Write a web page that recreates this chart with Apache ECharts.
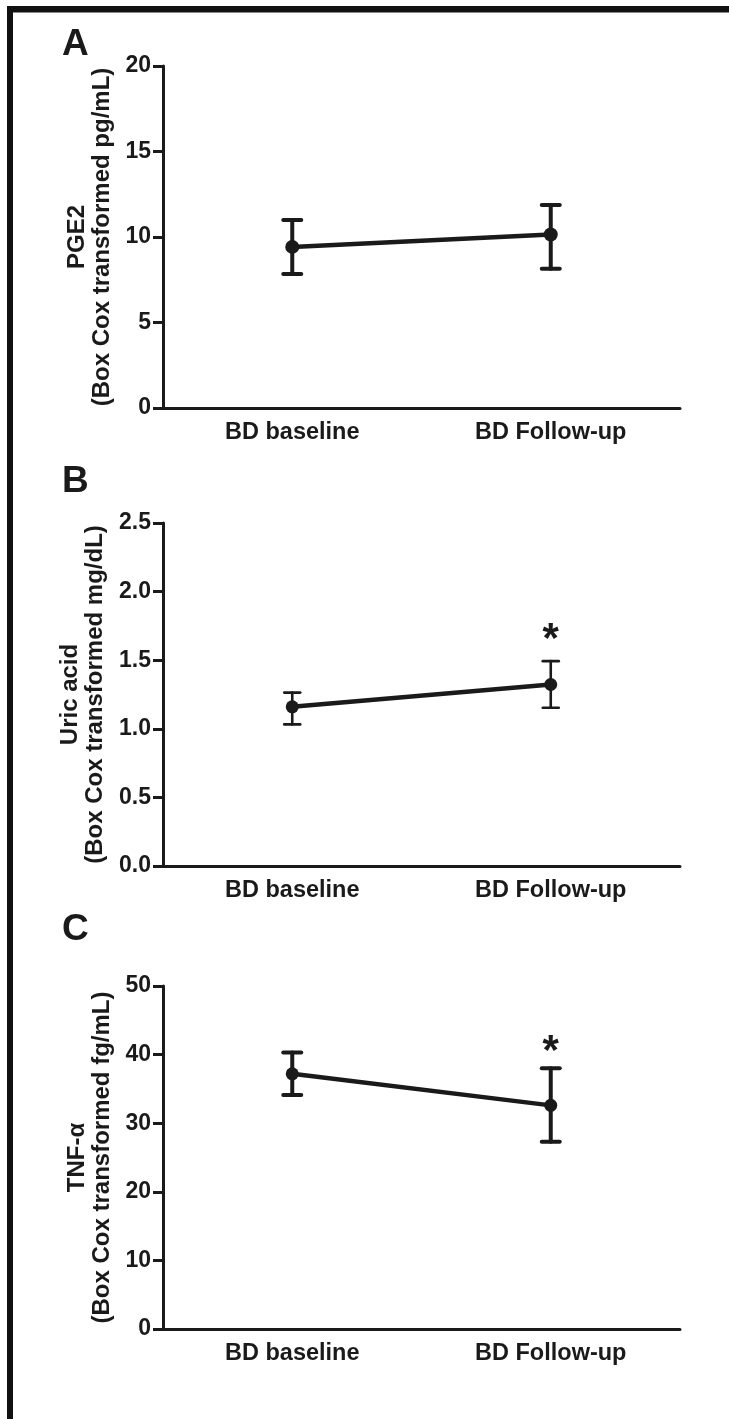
<!DOCTYPE html>
<html>
<head>
<meta charset="utf-8">
<script src="https://cdn.jsdelivr.net/npm/echarts@6/dist/echarts.min.js"></script>
<style>
  html, body { margin: 0; padding: 0; background: #fff; }
  #chart { width: 729px; height: 1419px; }
</style>
</head>
<body>
<div id="chart"></div>
<script>
// ---- data ----
const categories = ['BD baseline', 'BD Follow-up'];

const pgeMean  = [9.42, 10.15];
const pgeUpper = [10.99, 11.87];
const pgeLower = [7.84, 8.15];

const uricMean  = [1.16, 1.323];
const uricUpper = [1.264, 1.493];
const uricLower = [1.032, 1.153];
const uricStar  = [null, 1.71];

const tnfMean  = [37.2, 32.6];
const tnfUpper = [40.3, 38.0];
const tnfLower = [34.1, 27.3];
const tnfStar  = [null, 41.7];

const panelLabels = ['A', 'B', 'C'];
const yMax      = [20, 2.5, 50];
const yInterval = [5, 0.5, 10];
const yDecimals = [0, 1, 0];
const yTitles = [
  'PGE2\n(Box Cox transformed pg/mL)',
  'Uric acid\n(Box Cox transformed mg/dL)',
  'TNF-\u03b1\n(Box Cox transformed fg/mL)'
];

// ---- styling ----
const INK = '#1a1a1a';
const FONT = '"Liberation Sans", Arial, sans-serif';
const gridTops = [66, 523, 986];
const gridH = [342, 343, 343];
const barWidths = [4, 2.6, 4];
const capHalf = [9, 8, 9];
const dotSize = [14, 13, 13];
const labelTops = [26, 463, 911];

const panels = [
  { mean: pgeMean, up: pgeUpper, lo: pgeLower, star: null },
  { mean: uricMean, up: uricUpper, lo: uricLower, star: uricStar },
  { mean: tnfMean, up: tnfUpper, lo: tnfLower, star: tnfStar }
];

const grids = [], xAxes = [], yAxes = [], series = [], graphics = [];

panels.forEach((p, i) => {
  grids.push({ left: 163, top: gridTops[i], width: 517, height: gridH[i] });
  xAxes.push({
    type: 'category', gridIndex: i, data: categories, boundaryGap: true,
    axisLine: { lineStyle: { color: INK, width: 3 } },
    axisTick: { alignWithLabel: true, length: 10, lineStyle: { color: INK, width: 3 } },
    axisLabel: { color: INK, fontSize: 23.5, fontWeight: 'bold', fontFamily: FONT, margin: 13 },
    splitLine: { show: false }
  });
  yAxes.push({
    type: 'value', gridIndex: i, min: 0, max: yMax[i], interval: yInterval[i],
    axisLine: { show: true, lineStyle: { color: INK, width: 3 } },
    axisTick: { show: true, length: 10, lineStyle: { color: INK, width: 3 } },
    axisLabel: {
      color: INK, fontSize: 23, fontWeight: 'bold', fontFamily: FONT, margin: 12,
      formatter: (v) => v.toFixed(yDecimals[i])
    },
    splitLine: { show: false },
    name: yTitles[i], nameLocation: 'middle', nameRotate: 90, nameGap: 46,
    nameTextStyle: { color: INK, fontSize: 24, fontWeight: 'bold', fontFamily: FONT, lineHeight: 25 }
  });

  series.push({
    type: 'line', xAxisIndex: i, yAxisIndex: i, data: p.mean,
    symbol: 'circle', symbolSize: dotSize[i],
    lineStyle: { color: INK, width: 4.5 },
    itemStyle: { color: INK },
    z: 3
  });

  const ebData = p.mean.map((m, k) => [k, p.lo[k], p.up[k]]);
  series.push({
    type: 'custom', xAxisIndex: i, yAxisIndex: i, data: ebData,
    encode: { x: 0, y: [1, 2] },
    renderItem: (params, api) => {
      const x = api.value(0);
      const lo = api.coord([x, api.value(1)]);
      const hi = api.coord([x, api.value(2)]);
      const st = { stroke: INK, lineWidth: barWidths[i], lineCap: 'round' };
      const h = capHalf[i];
      return {
        type: 'group',
        children: [
          { type: 'line', shape: { x1: lo[0], y1: lo[1], x2: hi[0], y2: hi[1] }, style: st },
          { type: 'line', shape: { x1: hi[0] - h, y1: hi[1], x2: hi[0] + h, y2: hi[1] }, style: st },
          { type: 'line', shape: { x1: lo[0] - h, y1: lo[1], x2: lo[0] + h, y2: lo[1] }, style: st }
        ]
      };
    },
    z: 2
  });

  if (p.star) {
    const starData = p.star.map((s, k) => [k, s]).filter(d => d[1] != null);
    series.push({
      type: 'custom', xAxisIndex: i, yAxisIndex: i, data: starData,
      encode: { x: 0, y: 1 },
      renderItem: (params, api) => {
        const c = api.coord([api.value(0), api.value(1)]);
        return {
          type: 'text',
          x: c[0], y: c[1] + 9,
          style: {
            text: '*', fill: INK, fontSize: 42, fontWeight: 'bold', fontFamily: FONT,
            align: 'center', verticalAlign: 'middle'
          }
        };
      },
      z: 4
    });
  }

  graphics.push({
    type: 'text', left: 62, top: labelTops[i],
    style: { text: panelLabels[i], fill: INK, fontSize: 37, fontWeight: 'bold', fontFamily: FONT }
  });
});

// frame (top and left edges of the figure border)
graphics.push({ type: 'rect', shape: { x: 7, y: 6, width: 722, height: 6.5 }, style: { fill: '#111' } });
graphics.push({ type: 'rect', shape: { x: 7, y: 6, width: 6, height: 1413 }, style: { fill: '#111' } });

const chart = echarts.init(document.getElementById('chart'), null, { renderer: 'canvas' });
chart.setOption({
  animation: false,
  backgroundColor: '#fff',
  grid: grids,
  xAxis: xAxes,
  yAxis: yAxes,
  series: series,
  graphic: graphics
});
</script>
</body>
</html>
